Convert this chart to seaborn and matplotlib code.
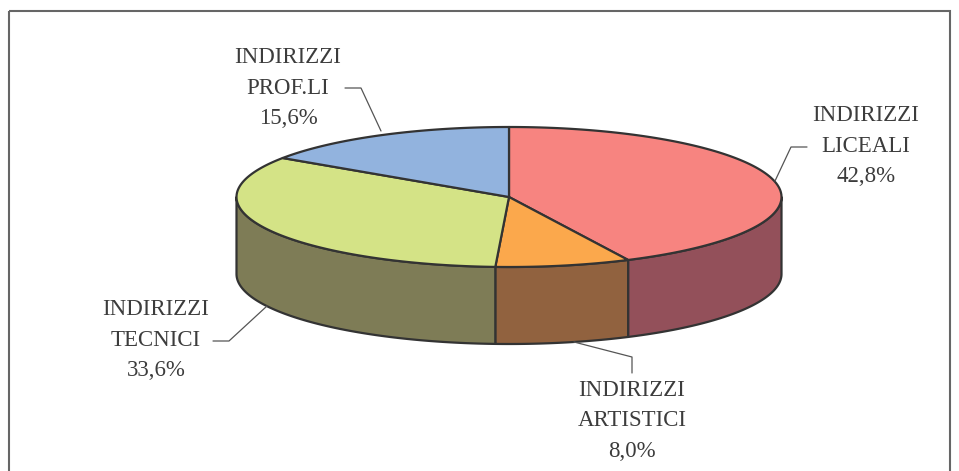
#!/usr/bin/env python3

import numpy as np
import matplotlib

matplotlib.use("Agg")
import matplotlib.pyplot as plt
import seaborn as sns
from matplotlib.patches import Rectangle

categories = ["INDIRIZZI\nLICEALI", "INDIRIZZI\nARTISTICI", "INDIRIZZI\nTECNICI", "INDIRIZZI\nPROF.LI"]
values = [42.8, 8.0, 33.6, 15.6]
top_colors = ["#F78480", "#FBA84C", "#D4E386", "#92B3DE"]
side_colors = ["#93505A", "#91623F", "#7E7C56", "#5F7896"]

# label centre and leader line, in pixels of the 959x471 canvas
label_pos = [(866, 146), (632, 421), (156, 340), (288, 88)]
leaders = [
    ([807, 791, 775], [147, 147, 181]),
    ([632, 632, 574], [373, 357, 342]),
    ([213, 229, 267], [341, 341, 306]),
    ([345, 361, 381], [88, 88, 131]),
]

CX, CY = 509, 197
RX, RY = 272.5, 70
DEPTH = 77
EDGE = "#333333"
TEXT = "#3C3C3C"

sns.set_theme(style="white")
plt.rcParams["font.family"] = ["Liberation Serif", "DejaVu Serif"]


def arc(a, b):
    t = np.radians(np.linspace(a, b, 120))
    return CX + RX * np.sin(t), CY - RY * np.cos(t)


fig = plt.figure(figsize=(9.59, 4.71), dpi=100)
ax = fig.add_axes([0, 0, 1, 1])
ax.set_xlim(0, 959)
ax.set_ylim(471, 0)
ax.axis("off")

ax.add_patch(Rectangle((9, 11), 941, 500, fill=False, ec="#666666", lw=1.5))

stops = np.concatenate([[0], np.cumsum(values)]) * 3.6

# front walls first, only the part of each slice facing the viewer
for i in range(len(values)):
    a, b = max(stops[i], 90), min(stops[i + 1], 270)
    if a >= b:
        continue
    x, y = arc(a, b)
    ax.fill(
        np.concatenate([x, x[::-1]]),
        np.concatenate([y, y[::-1] + DEPTH]),
        fc=side_colors[i],
        ec=EDGE,
        lw=1.6,
        joinstyle="round",
    )

# top faces
for i in range(len(values)):
    x, y = arc(stops[i], stops[i + 1])
    ax.fill(
        np.concatenate([[CX], x]),
        np.concatenate([[CY], y]),
        fc=top_colors[i],
        ec=EDGE,
        lw=1.6,
        joinstyle="round",
    )

for i, cat in enumerate(categories):
    ax.plot(leaders[i][0], leaders[i][1], color="#555555", lw=0.9)
    pct = f"{values[i]:.1f}%".replace(".", ",")
    ax.text(
        label_pos[i][0],
        label_pos[i][1],
        f"{cat}\n{pct}",
        ha="center",
        va="center",
        ma="center",
        fontsize=16.5,
        color=TEXT,
        linespacing=1.58,
    )

fig.savefig("out.png", dpi=100)
